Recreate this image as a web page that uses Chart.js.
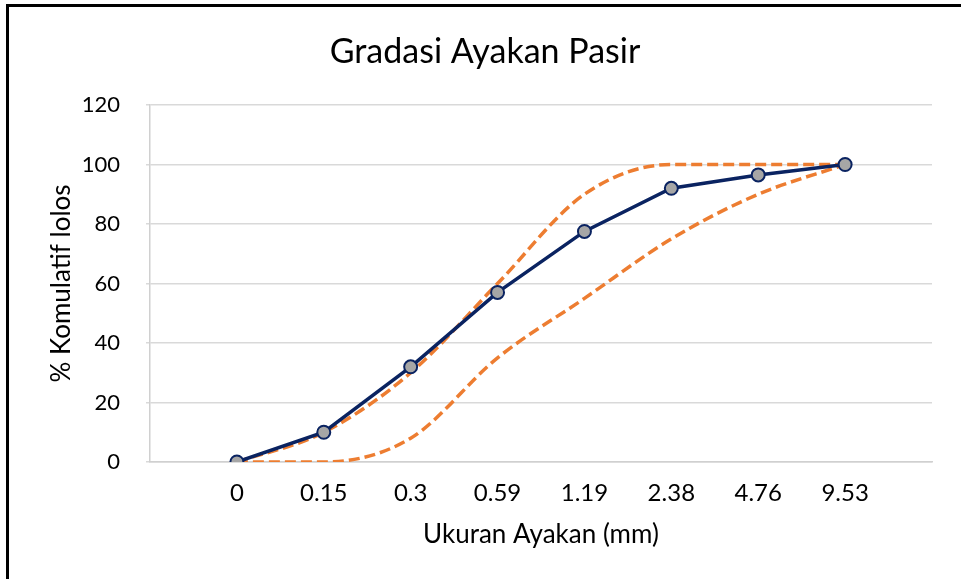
<!DOCTYPE html>
<html>
<head>
<meta charset="utf-8">
<script src="https://cdn.jsdelivr.net/npm/chart.js@4/dist/chart.umd.min.js"></script>
<style>
	html, body { margin: 0; padding: 0; background: #fff; overflow: hidden; }
	#wrap { position: relative; width: 961px; height: 579px; }
	#frame { position: absolute; left: 6px; top: 4px; width: 1000px; height: 700px; border: 3px solid #000; box-sizing: border-box; pointer-events: none; }
	canvas { position: absolute; left: 0; top: 0; }
</style>
</head>
<body>
<div id="wrap">
	<canvas id="chart" width="961" height="579"></canvas>
	<div id="frame"></div>
</div>
<script>
// sieve sizes (mm), blank slot at each end to leave room
var sieveLabels = ['', '0', '0.15', '0.3', '0.59', '1.19', '2.38', '4.76', '9.53', ''];
var passing = [null, 0, 10, 32, 57, 77.5, 92, 96.5, 100, null];
var upperLimit = [null, 0, 10, 30, 60, 90, 100, 100, 100, null];
var lowerLimit = [null, 0, 0, 8, 35, 55, 75, 90, 100, null];
var yTicks = [0, 20, 40, 60, 80, 100, 120];

var font = 'Lato, "Open Sans", sans-serif';

var chart = new Chart(document.getElementById('chart').getContext('2d'), {
	type: 'line',
	data: {
		labels: sieveLabels,
		datasets: [
			{
				label: 'Pasir',
				data: passing,
				borderColor: '#0a2361',
				borderWidth: 3.5,
				pointRadius: 6.5,
				pointBorderWidth: 2,
				pointBackgroundColor: '#a6a6a6',
				pointBorderColor: '#0a2361',
				tension: 0,
				order: 0
			},
			{
				label: 'Batas atas',
				data: upperLimit,
				borderColor: '#ed7d31',
				borderWidth: 3.5,
				borderDash: [11, 5],
				pointRadius: 0,
				cubicInterpolationMode: 'monotone',
				order: 1
			},
			{
				label: 'Batas bawah',
				data: lowerLimit,
				borderColor: '#ed7d31',
				borderWidth: 3.5,
				borderDash: [11, 5],
				pointRadius: 0,
				cubicInterpolationMode: 'monotone',
				order: 2
			}
		]
	},
	options: {
		responsive: false,
		animation: false,
		layout: { padding: { left: 38, right: 29, top: 0, bottom: 0 } },
		plugins: {
			legend: { display: false },
			tooltip: { enabled: false },
			title: {
				display: true,
				text: 'Gradasi Ayakan Pasir',
				color: '#000',
				font: { family: font, size: 34, weight: 'normal' },
				padding: { top: 31.6, bottom: 32.6 }
			}
		},
		scales: {
			x: {
				offset: false,
				grid: { display: false },
				border: { display: true, color: '#d0d0d0', width: 1.5 },
				ticks: {
					color: '#000',
					font: { family: font, size: 24 },
					padding: 9,
					autoSkip: false,
					maxRotation: 0
				},
				title: {
					display: true,
					text: 'Ukuran Ayakan (mm)',
					color: '#000',
					font: { family: font, size: 26 },
					padding: { top: 0, bottom: 28.4 }
				},
				afterFit: function(scale){ scale.height = 117; }
			},
			y: {
				min: 0,
				max: 120,
				afterBuildTicks: function(scale){
					scale.ticks = yTicks.map(function(v){ return { value: v }; });
				},
				grid: { color: '#d9d9d9', lineWidth: 1.5, tickLength: 4 },
				border: { display: true, color: '#d0d0d0', width: 1.5 },
				ticks: {
					color: '#000',
					font: { family: font, size: 22 },
					padding: 26
				},
				title: {
					display: true,
					text: '% Komulatif lolos',
					color: '#000',
					font: { family: font, size: 26 },
					padding: { top: 8.4, bottom: 0 }
				},
				afterFit: function(scale){ scale.width = 112; }
			}
		}
	}
});
</script>
</body>
</html>
